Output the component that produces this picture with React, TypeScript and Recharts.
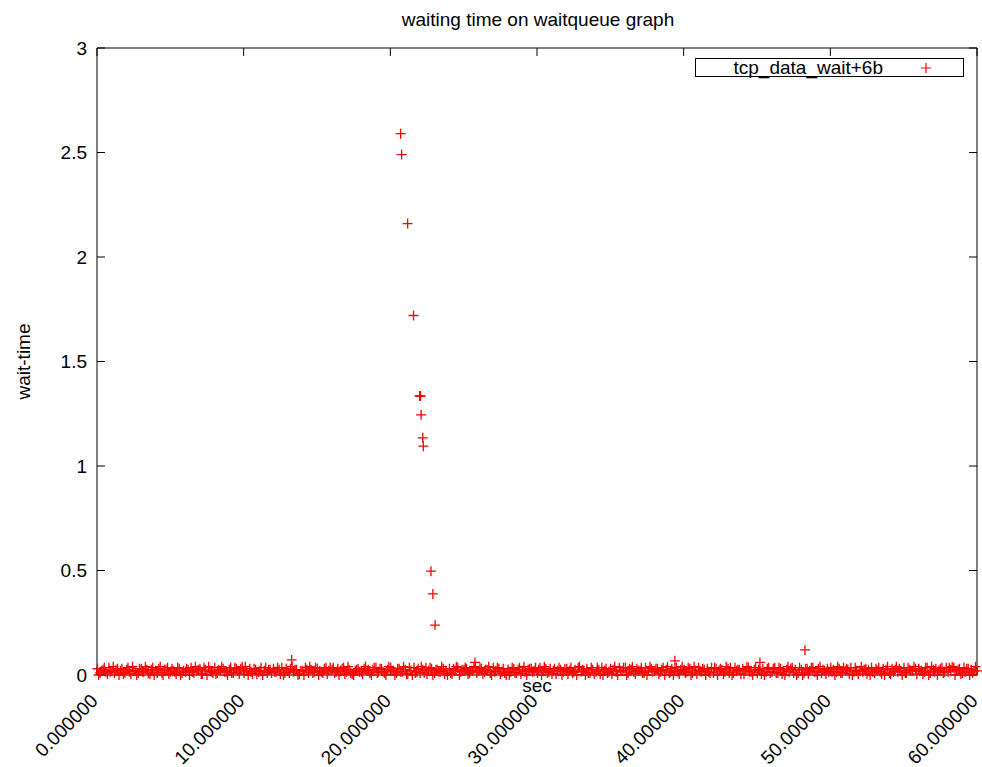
import React from 'react';
import { ScatterChart, Scatter, XAxis, YAxis, Legend, Label } from 'recharts';

const FONT = '"Liberation Sans", Arial, sans-serif';
const RED = '#ff0000';

const TITLE = 'waiting time on waitqueue graph';
const SERIES_NAME = 'tcp_data_wait+6b';
const X_TICKS = [0, 10, 20, 30, 40, 50, 60];
const Y_TICKS = [0, 0.5, 1, 1.5, 2, 2.5, 3];

// [sec, wait-time] – the dense band of short waits along the bottom
const bandPoints: [number, number][] = [
  [0.03, 0.03], [0.21, 0.01], [0.42, 0.025], [0.6, 0.015], [0.81, 0.035], [1.02, 0.02], [1.19, 0.01], [1.4, 0.03], [1.61, 0.02], [1.8, 0.005],
  [2.03, 0.025], [2.21, 0.015], [2.42, 0.04], [2.6, 0.02], [2.81, 0.01], [3.02, 0.03], [3.19, 0.015], [3.4, 0.025], [3.61, 0.005], [3.8, 0.035],
  [4.03, 0.02], [4.21, 0.03], [4.42, 0.01], [4.6, 0.025], [4.81, 0.035], [5.02, 0.015], [5.19, 0.02], [5.4, 0.005], [5.61, 0.03], [5.8, 0.01],
  [6.03, 0.015], [6.21, 0.025], [6.42, 0.035], [6.6, 0.01], [6.81, 0.02], [7.02, 0.03], [7.19, 0.005], [7.4, 0.025], [7.61, 0.04], [7.8, 0.015],
  [8.03, 0.035], [8.21, 0.01], [8.42, 0.02], [8.6, 0.03], [8.81, 0.015], [9.02, 0.025], [9.19, 0.01], [9.4, 0.035], [9.61, 0.02], [9.8, 0.03],
  [10.03, 0.01], [10.21, 0.02], [10.42, 0.03], [10.6, 0.005], [10.81, 0.025], [11.02, 0.015], [11.19, 0.035], [11.4, 0.02], [11.61, 0.01], [11.8, 0.025],
  [12.03, 0.03], [12.21, 0.015], [12.42, 0.025], [12.6, 0.035], [12.81, 0.01], [13.02, 0.02], [13.19, 0.03], [13.4, 0.015], [13.61, 0.025], [13.8, 0.005],
  [14.03, 0.02], [14.21, 0.035], [14.42, 0.01], [14.6, 0.025], [14.81, 0.015], [15.02, 0.03], [15.19, 0.02], [15.4, 0.01], [15.61, 0.035], [15.8, 0.02],
  [16.03, 0.025], [16.21, 0.01], [16.42, 0.03], [16.6, 0.02], [16.81, 0.035], [17.02, 0.015], [17.19, 0.025], [17.4, 0.005], [17.61, 0.02], [17.8, 0.03],
  [18.03, 0.015], [18.21, 0.03], [18.42, 0.02], [18.6, 0.01], [18.81, 0.025], [19.02, 0.035], [19.19, 0.015], [19.4, 0.03], [19.61, 0.01], [19.8, 0.025],
  [20.03, 0.035], [20.21, 0.02], [20.42, 0.01], [20.6, 0.03], [20.81, 0.015], [21.02, 0.025], [21.19, 0.005], [21.4, 0.02], [21.61, 0.035], [21.8, 0.015],
  [22.03, 0.01], [22.21, 0.025], [22.42, 0.035], [22.6, 0.02], [22.81, 0.03], [23.02, 0.01], [23.19, 0.025], [23.4, 0.015], [23.61, 0.03], [23.8, 0.02],
  [24.03, 0.03], [24.21, 0.005], [24.42, 0.02], [24.6, 0.035], [24.81, 0.015], [25.02, 0.025], [25.19, 0.03], [25.4, 0.01], [25.61, 0.02], [25.8, 0.035],
  [26.03, 0.02], [26.21, 0.03], [26.42, 0.015], [26.6, 0.025], [26.81, 0.01], [27.02, 0.035], [27.19, 0.02], [27.4, 0.03], [27.61, 0.015], [27.8, 0.01],
  [28.03, 0.025], [28.21, 0.015], [28.42, 0.03], [28.6, 0.01], [28.81, 0.035], [29.02, 0.02], [29.19, 0.015], [29.4, 0.025], [29.61, 0.03], [29.8, 0.02],
  [30.03, 0.01], [30.21, 0.035], [30.42, 0.02], [30.6, 0.03], [30.81, 0.015], [31.02, 0.005], [31.19, 0.03], [31.4, 0.02], [31.61, 0.025], [31.8, 0.015],
  [32.03, 0.03], [32.21, 0.02], [32.42, 0.01], [32.6, 0.025], [32.81, 0.035], [33.02, 0.015], [33.19, 0.02], [33.4, 0.03], [33.61, 0.01], [33.8, 0.025],
  [34.03, 0.015], [34.21, 0.025], [34.42, 0.035], [34.6, 0.02], [34.81, 0.01], [35.02, 0.03], [35.19, 0.025], [35.4, 0.015], [35.61, 0.035], [35.8, 0.02],
  [36.03, 0.035], [36.21, 0.01], [36.42, 0.025], [36.6, 0.015], [36.81, 0.03], [37.02, 0.02], [37.19, 0.01], [37.4, 0.035], [37.61, 0.02], [37.8, 0.03],
  [38.03, 0.02], [38.21, 0.03], [38.42, 0.015], [38.6, 0.035], [38.81, 0.025], [39.02, 0.01], [39.19, 0.03], [39.4, 0.02], [39.61, 0.015], [39.8, 0.025],
  [40.03, 0.025], [40.21, 0.015], [40.42, 0.03], [40.6, 0.01], [40.81, 0.02], [41.02, 0.035], [41.19, 0.015], [41.4, 0.025], [41.61, 0.03], [41.8, 0.01],
  [42.03, 0.01], [42.21, 0.03], [42.42, 0.02], [42.6, 0.025], [42.81, 0.015], [43.02, 0.03], [43.19, 0.035], [43.4, 0.01], [43.61, 0.02], [43.8, 0.025],
  [44.03, 0.03], [44.21, 0.02], [44.42, 0.035], [44.6, 0.015], [44.81, 0.025], [45.02, 0.01], [45.19, 0.02], [45.4, 0.03], [45.61, 0.015], [45.8, 0.035],
  [46.03, 0.015], [46.21, 0.035], [46.42, 0.01], [46.6, 0.03], [46.81, 0.02], [47.02, 0.025], [47.19, 0.015], [47.4, 0.035], [47.61, 0.025], [47.8, 0.01],
  [48.03, 0.025], [48.21, 0.01], [48.42, 0.03], [48.6, 0.02], [48.81, 0.035], [49.02, 0.015], [49.19, 0.03], [49.4, 0.01], [49.61, 0.02], [49.8, 0.03],
  [50.03, 0.035], [50.21, 0.025], [50.42, 0.015], [50.6, 0.03], [50.81, 0.01], [51.02, 0.02], [51.19, 0.025], [51.4, 0.035], [51.61, 0.015], [51.8, 0.02],
  [52.03, 0.02], [52.21, 0.015], [52.42, 0.03], [52.6, 0.025], [52.81, 0.035], [53.02, 0.01], [53.19, 0.02], [53.4, 0.015], [53.61, 0.03], [53.8, 0.025],
  [54.03, 0.01], [54.21, 0.03], [54.42, 0.025], [54.6, 0.015], [54.81, 0.02], [55.02, 0.035], [55.19, 0.01], [55.4, 0.025], [55.61, 0.02], [55.8, 0.03],
  [56.03, 0.03], [56.21, 0.02], [56.42, 0.015], [56.6, 0.035], [56.81, 0.01], [57.02, 0.025], [57.19, 0.03], [57.4, 0.02], [57.61, 0.035], [57.8, 0.015],
  [58.03, 0.015], [58.21, 0.025], [58.42, 0.035], [58.6, 0.02], [58.81, 0.03], [59.02, 0.01], [59.19, 0.015], [59.4, 0.03], [59.61, 0.025], [59.8, 0.02],
  [60.0, 0.02],
];

// more short waits in between, many of them right at zero
const bandPoints2: [number, number][] = [
  [0.11, 0], [0.31, 0.02], [0.5, 0.035], [0.71, 0.005], [0.9, 0.015], [1.11, 0.04], [1.3, 0.025], [1.5, 0], [1.7, 0.03], [1.9, 0.01],
  [2.11, 0.035], [2.31, 0.005], [2.5, 0.02], [2.71, 0], [2.9, 0.03], [3.11, 0.015], [3.3, 0.04], [3.5, 0.01], [3.7, 0.025], [3.9, 0],
  [4.11, 0.01], [4.31, 0.04], [4.5, 0], [4.71, 0.025], [4.9, 0.005], [5.11, 0.03], [5.3, 0.015], [5.5, 0.035], [5.7, 0], [5.9, 0.02],
  [6.11, 0.03], [6.31, 0], [6.5, 0.015], [6.71, 0.04], [6.9, 0.025], [7.11, 0.005], [7.3, 0.035], [7.5, 0], [7.7, 0.02], [7.9, 0.01],
  [8.11, 0.005], [8.31, 0.025], [8.5, 0.04], [8.71, 0.015], [8.9, 0], [9.11, 0.035], [9.3, 0.01], [9.5, 0.03], [9.7, 0.005], [9.9, 0.04],
  [10.11, 0.04], [10.31, 0], [10.5, 0.015], [10.71, 0.03], [10.9, 0.005], [11.11, 0.02], [11.3, 0], [11.5, 0.035], [11.7, 0.025], [11.9, 0.01],
  [12.11, 0.015], [12.31, 0.035], [12.5, 0.005], [12.71, 0], [12.9, 0.03], [13.11, 0.01], [13.3, 0.04], [13.5, 0.025], [13.7, 0], [13.9, 0.02],
  [14.11, 0], [14.31, 0.025], [14.5, 0.04], [14.71, 0.01], [14.9, 0.035], [15.11, 0], [15.3, 0.015], [15.5, 0.03], [15.7, 0.005], [15.9, 0.035],
  [16.11, 0.035], [16.31, 0.015], [16.5, 0], [16.71, 0.03], [16.9, 0.005], [17.11, 0.04], [17.3, 0.01], [17.5, 0], [17.7, 0.025], [17.9, 0.015],
  [18.11, 0.005], [18.31, 0.04], [18.5, 0.025], [18.71, 0], [18.9, 0.035], [19.11, 0.01], [19.3, 0.03], [19.5, 0.015], [19.7, 0], [19.9, 0.04],
  [20.11, 0.02], [20.31, 0], [20.5, 0.03], [20.71, 0.015], [20.9, 0.04], [21.11, 0.005], [21.3, 0.035], [21.5, 0], [21.7, 0.01], [21.9, 0.03],
  [22.11, 0.04], [22.31, 0.01], [22.5, 0.005], [22.71, 0.035], [22.9, 0], [23.11, 0.025], [23.3, 0.015], [23.5, 0.04], [23.7, 0.005], [23.9, 0],
  [24.11, 0.01], [24.31, 0.03], [24.5, 0.04], [24.71, 0], [24.9, 0.025], [25.11, 0.035], [25.3, 0.005], [25.5, 0.02], [25.7, 0.04], [25.9, 0.01],
  [26.11, 0.035], [26.31, 0.005], [26.5, 0.025], [26.71, 0.04], [26.9, 0], [27.11, 0.015], [27.3, 0.035], [27.5, 0.005], [27.7, 0.03], [27.9, 0],
  [28.11, 0], [28.31, 0.035], [28.5, 0.01], [28.71, 0.025], [28.9, 0.005], [29.11, 0.04], [29.3, 0], [29.5, 0.03], [29.7, 0.015], [29.9, 0.035],
  [30.11, 0.025], [30.31, 0], [30.5, 0.04], [30.71, 0.01], [30.9, 0.03], [31.11, 0.02], [31.3, 0.005], [31.5, 0.035], [31.7, 0], [31.9, 0.03],
  [32.11, 0.005], [32.31, 0.035], [32.5, 0.015], [32.71, 0], [32.9, 0.04], [33.11, 0.025], [33.3, 0], [33.5, 0.01], [33.7, 0.035], [33.9, 0.005],
  [34.11, 0.035], [34.31, 0.005], [34.5, 0], [34.71, 0.03], [34.9, 0.015], [35.11, 0.005], [35.3, 0.04], [35.5, 0], [35.7, 0.02], [35.9, 0.035],
  [36.11, 0], [36.31, 0.03], [36.5, 0.04], [36.71, 0.005], [36.9, 0.02], [37.11, 0.035], [37.3, 0.01], [37.5, 0], [37.7, 0.04], [37.9, 0.015],
  [38.11, 0.03], [38.31, 0.005], [38.5, 0.025], [38.71, 0], [38.9, 0.04], [39.11, 0.015], [39.3, 0], [39.5, 0.035], [39.7, 0.005], [39.9, 0.04],
  [40.11, 0.01], [40.31, 0.035], [40.5, 0], [40.71, 0.04], [40.9, 0.005], [41.11, 0.02], [41.3, 0.03], [41.5, 0], [41.7, 0.015], [41.9, 0.035],
  [42.11, 0.035], [42.31, 0], [42.5, 0.03], [42.71, 0.005], [42.9, 0.04], [43.11, 0.01], [43.3, 0], [43.5, 0.035], [43.7, 0.025], [43.9, 0.005],
  [44.11, 0.005], [44.31, 0.04], [44.5, 0.015], [44.71, 0], [44.9, 0.035], [45.11, 0.025], [45.3, 0.005], [45.5, 0], [45.7, 0.03], [45.9, 0.01],
  [46.11, 0.03], [46.31, 0.01], [46.5, 0.035], [46.71, 0.005], [46.9, 0], [47.11, 0.04], [47.3, 0.03], [47.5, 0.01], [47.7, 0], [47.9, 0.035],
  [48.11, 0], [48.31, 0.03], [48.5, 0.005], [48.71, 0.035], [48.9, 0.015], [49.11, 0], [49.3, 0.04], [49.5, 0.025], [49.7, 0.005], [49.9, 0.015],
  [50.11, 0.015], [50.31, 0], [50.5, 0.04], [50.71, 0.01], [50.9, 0.035], [51.11, 0.03], [51.3, 0.005], [51.5, 0], [51.7, 0.035], [51.9, 0.005],
  [52.11, 0.04], [52.31, 0.025], [52.5, 0.005], [52.71, 0], [52.9, 0.015], [53.11, 0.03], [53.3, 0.035], [53.5, 0.005], [53.7, 0], [53.9, 0.04],
  [54.11, 0.005], [54.31, 0.015], [54.5, 0.04], [54.71, 0.03], [54.9, 0], [55.11, 0.01], [55.3, 0.035], [55.5, 0.02], [55.7, 0.04], [55.9, 0.005],
  [56.11, 0.02], [56.31, 0.005], [56.5, 0.035], [56.71, 0], [56.9, 0.04], [57.11, 0.015], [57.3, 0], [57.5, 0.03], [57.7, 0.01], [57.9, 0.035],
  [58.11, 0.035], [58.31, 0.04], [58.5, 0], [58.71, 0.025], [58.9, 0.005], [59.11, 0.035], [59.3, 0.03], [59.5, 0], [59.7, 0.01], [59.9, 0.04],
];

// the burst of long waits a bit after 20 sec
const spikePoints: [number, number][] = [
  [20.7, 2.59], [20.77, 2.49], [21.18, 2.16], [21.58, 1.72], [22.0, 1.335], [22.06, 1.335],
  [22.1, 1.245], [22.21, 1.135], [22.25, 1.095], [22.77, 0.497], [22.9, 0.388], [23.05, 0.239],
];

// a few isolated waits just above the band
const strayPoints: [number, number][] = [
  [13.27, 0.072], [25.77, 0.06], [39.4, 0.068], [45.2, 0.06], [48.27, 0.12],
];

const points = [...bandPoints, ...bandPoints2, ...spikePoints, ...strayPoints].map(([sec, wait]) => ({ sec, wait }));

const Plus = (props: any) => {
  const { cx, cy } = props;
  if (cx == null || cy == null) return null;
  return <path d={`M${cx - 5},${cy}h10M${cx},${cy - 5}v10`} stroke={RED} strokeWidth={1.3} fill="none" />;
};

const XTick = (props: any) => {
  const { x, y, payload } = props;
  const tx = x + 2;
  const ty = y + 27;
  return (
    <text x={tx} y={ty} transform={`rotate(-45 ${tx} ${ty})`} textAnchor="end" fontSize={19} fill="#000" fontFamily={FONT}>
      {Number(payload.value).toFixed(6)}
    </text>
  );
};

const LegendBox = () => (
  <div
    style={{
      width: 269,
      height: 19,
      boxSizing: 'border-box',
      border: '1px solid #000',
      position: 'relative',
      fontFamily: FONT,
      fontSize: 19,
      background: '#fff',
    }}
  >
    <span style={{ position: 'absolute', right: 80, top: -2, lineHeight: '22px', whiteSpace: 'nowrap' }}>{SERIES_NAME}</span>
    <svg width={12} height={12} style={{ position: 'absolute', left: 224, top: 3 }}>
      <path d="M1,6h10M6,1v10" stroke={RED} strokeWidth={1.2} />
    </svg>
  </div>
);

export default function App() {
  return (
    <div style={{ position: 'absolute', left: 0, top: 0, width: 982, height: 767, background: '#fff', fontFamily: FONT }}>
      <div
        style={{
          position: 'absolute',
          top: 10,
          left: 0,
          width: 1076,
          textAlign: 'center',
          fontSize: 19,
          lineHeight: '20px',
          color: '#000',
        }}
      >
        {TITLE}
      </div>
      <ScatterChart width={982} height={767} margin={{ top: 47, right: 4, bottom: 0, left: 0 }}>
        <XAxis
          xAxisId="b"
          type="number"
          dataKey="sec"
          domain={[0, 60]}
          ticks={X_TICKS}
          height={92}
          stroke="#000"
          tickSize={-8}
          tickMargin={8}
          tickLine={{ stroke: '#000' }}
          tick={<XTick />}
          interval={0}
        >
          <Label
            content={(p: any) => (
              <text x={p.viewBox.x + p.viewBox.width / 2} y={p.viewBox.y + 17} textAnchor="middle" fontSize={19} fill="#000" fontFamily={FONT}>
                sec
              </text>
            )}
          />
        </XAxis>
        <XAxis
          xAxisId="t"
          orientation="top"
          type="number"
          dataKey="sec"
          domain={[0, 60]}
          allowDataOverflow
          ticks={X_TICKS}
          height={1}
          stroke="#000"
          tickSize={-8}
          tickFormatter={() => ''}
          interval={0}
        />
        <YAxis
          yAxisId="l"
          type="number"
          dataKey="wait"
          domain={[0, 3]}
          ticks={Y_TICKS}
          width={97}
          stroke="#000"
          tickSize={-8}
          tickMargin={18}
          tick={{ fontSize: 19, fill: '#000', fontFamily: FONT }}
          interval={0}
        >
          <Label
            content={(p: any) => {
              const lx = p.viewBox.x + 30;
              const ly = p.viewBox.y + p.viewBox.height / 2;
              return (
                <text x={lx} y={ly} transform={`rotate(-90 ${lx} ${ly})`} textAnchor="middle" fontSize={19} fill="#000" fontFamily={FONT}>
                  wait-time
                </text>
              );
            }}
          />
        </YAxis>
        <YAxis
          yAxisId="r"
          orientation="right"
          type="number"
          dataKey="wait"
          domain={[0, 3]}
          allowDataOverflow
          ticks={Y_TICKS}
          width={1}
          stroke="#000"
          tickSize={-8}
          tickFormatter={() => ''}
          interval={0}
        />
        <Legend
          verticalAlign="middle"
          content={<LegendBox />}
          wrapperStyle={{ position: 'absolute', top: 58, left: 695, width: 269, height: 19 }}
        />
        <Scatter
          name={SERIES_NAME}
          data={points}
          xAxisId="b"
          yAxisId="l"
          fill={RED}
          shape={<Plus />}
          isAnimationActive={false}
        />
      </ScatterChart>
    </div>
  );
}
